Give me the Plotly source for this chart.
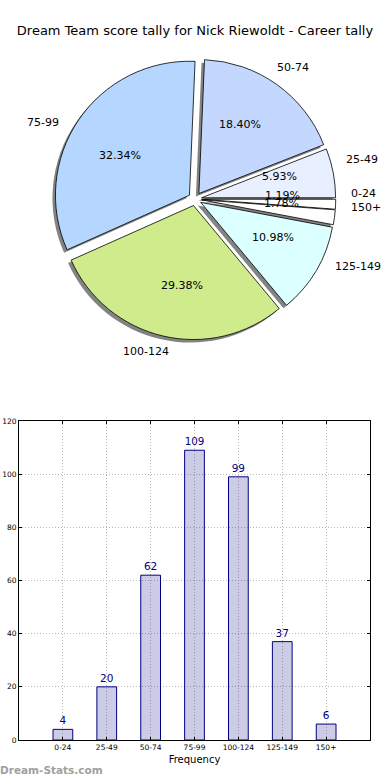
import math
import plotly.graph_objects as go

categories = ["0-24", "25-49", "50-74", "75-99", "100-124", "125-149", "150+"]
counts = [4, 20, 62, 109, 99, 37, 6]
pie_colors = ["#ffffff", "#e8efff", "#c4d8ff", "#b4d6ff", "#d0eb8b", "#dcffff", "#ffffff"]
title_text = "Dream Team score tally for Nick Riewoldt - Career tally"
y_ticks = [0, 20, 40, 60, 80, 100, 120]

W, H = 390, 780
FONT = "DejaVu Sans"

# pie geometry (pixels)
cx, cy, R, pull = 195, 199, 134, 0.05
half = R * (1 + pull)
dom_x = [(cx - half) / W, (cx + half) / W]
dom_y = [1 - (cy + half) / H, 1 - (cy - half) / H]
sdx, sdy = -3 / W, -3 / H

# hidden text axes covering the pie area (1 unit = R pixels in both directions)
tx_px = [0, W]
ty_px = [40, 370]

fig = go.Figure()

# shadow
fig.add_trace(go.Pie(
    labels=categories, values=counts, sort=False, direction="counterclockwise",
    rotation=90, pull=pull, textinfo="none", hoverinfo="skip",
    marker=dict(colors=["rgba(90,90,90,0.75)"] * len(counts), line=dict(width=0)),
    domain=dict(x=[dom_x[0] + sdx, dom_x[1] + sdx], y=[dom_y[0] + sdy, dom_y[1] + sdy]),
    showlegend=False,
))

# main pie
fig.add_trace(go.Pie(
    labels=categories, values=counts, sort=False, direction="counterclockwise",
    rotation=90, pull=pull, textinfo="none",
    marker=dict(colors=pie_colors, line=dict(color="#000000", width=0.8)),
    domain=dict(x=dom_x, y=dom_y), showlegend=False,
))

# bar chart
fig.add_trace(go.Bar(
    x=list(range(len(categories))), y=counts, width=0.45,
    marker=dict(color="rgba(0,0,128,0.2)", line=dict(color="#000080", width=1)),
    text=[str(c) for c in counts], textposition="outside",
    textfont=dict(family=FONT, size=10.5, color="#000080"),
    cliponaxis=False, showlegend=False,
))

grid = dict(showgrid=True, gridcolor="#b8b8b8", griddash="1px,2px", gridwidth=1)
axis_common = dict(ticks="inside", ticklen=3, tickcolor="#000", showline=True,
                   linecolor="#000", linewidth=1, mirror="ticks", zeroline=False,
                   automargin=False, tickfont=dict(size=7.5))
fig.update_layout(
    width=W, height=H, margin=dict(l=0, r=0, t=0, b=0, autoexpand=False),
    paper_bgcolor="white", plot_bgcolor="white",
    font=dict(family=FONT, color="#000000"),
    title=dict(text=title_text, x=0.5, xanchor="center", y=1 - 30 / H, yanchor="middle",
               font=dict(family=FONT, size=13, color="#000000")),
    xaxis=dict(domain=[19 / W, 370 / W], range=[-1, 7], tickmode="array",
               tickvals=list(range(len(categories))), ticktext=categories,
               title=dict(text="Frequency", font=dict(size=10), standoff=4),
               **axis_common, **grid),
    yaxis=dict(domain=[1 - 740 / H, 1 - 421 / H], range=[0, 120], tickvals=y_ticks,
               **axis_common, **grid),
    xaxis2=dict(domain=[tx_px[0] / W, tx_px[1] / W],
                range=[(tx_px[0] - cx) / R, (tx_px[1] - cx) / R],
                visible=False, anchor="y2", fixedrange=True),
    yaxis2=dict(domain=[1 - ty_px[1] / H, 1 - ty_px[0] / H],
                range=[(cy - ty_px[1]) / R, (cy - ty_px[0]) / R],
                visible=False, anchor="x2", fixedrange=True),
    bargap=0.5,
)

# pie texts: percentages at 0.6R and labels at 1.1R from the exploded wedge centre
total = sum(counts)
start = 0.0
for cat, val in zip(categories, counts):
    span = 360.0 * val / total
    mid = math.radians(start + span / 2)
    start += span
    ux, uy = math.cos(mid), math.sin(mid)
    fig.add_annotation(xref="x2", yref="y2", x=(0.6 + pull) * ux, y=(0.6 + pull) * uy,
                       text=f"{100 * val / total:.2f}%", showarrow=False,
                       xanchor="center", yanchor="middle",
                       font=dict(family=FONT, size=11, color="#000"))
    fig.add_annotation(xref="x2", yref="y2", x=(1.1 + pull) * ux, y=(1.1 + pull) * uy,
                       text=cat, showarrow=False,
                       xanchor="left" if ux > 0 else "right", yanchor="middle",
                       font=dict(family=FONT, size=11, color="#000"))

fig.add_annotation(text="<b>Dream-Stats.com</b>", xref="paper", yref="paper",
                   x=0, y=1 - 770 / H, xanchor="left", yanchor="middle", showarrow=False,
                   xshift=-2, font=dict(family=FONT, size=10.5, color="#a0a0a0"))

fig.write_html("out.html", config={"displayModeBar": False},
               post_script="document.body.style.margin='0px';")
